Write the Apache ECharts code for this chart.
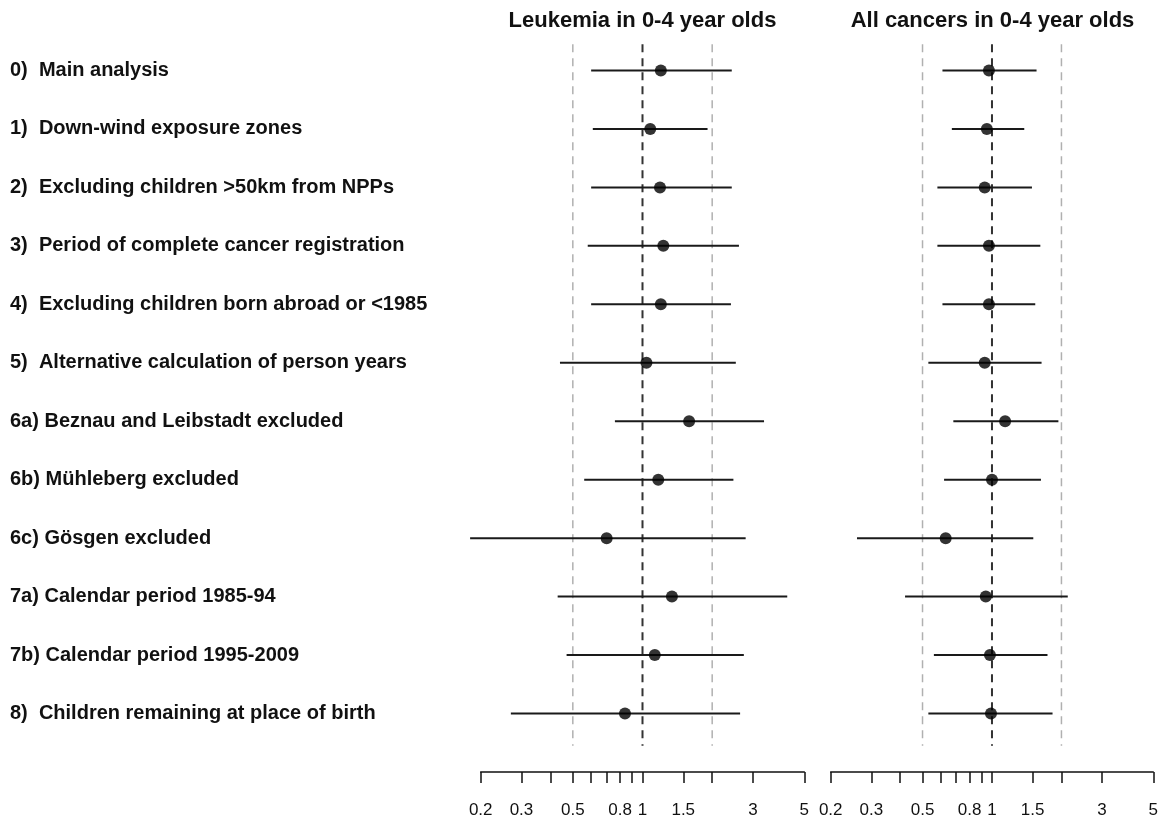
<!DOCTYPE html>
<html>
<head>
<meta charset="utf-8">
<script src="https://cdn.jsdelivr.net/npm/echarts@6/dist/echarts.min.js"></script>
<style>
html,body{margin:0;padding:0;background:#fff;}
#chart{width:1161px;height:819px;}
</style>
</head>
<body>
<div id="chart"></div>
<script>
const rowLabels = [
  "0)  Main analysis",
  "1)  Down-wind exposure zones",
  "2)  Excluding children >50km from NPPs",
  "3)  Period of complete cancer registration",
  "4)  Excluding children born abroad or <1985",
  "5)  Alternative calculation of person years",
  "6a) Beznau and Leibstadt excluded",
  "6b) Mühleberg excluded",
  "6c) Gösgen excluded",
  "7a) Calendar period 1985-94",
  "7b) Calendar period 1995-2009",
  "8)  Children remaining at place of birth"
];
const panelTitles = ["Leukemia in 0-4 year olds", "All cancers in 0-4 year olds"];

const leukEst = [1.20, 1.08, 1.19, 1.23, 1.20, 1.04, 1.59, 1.17, 0.70, 1.34, 1.13, 0.84];
const leukLo  = [0.60, 0.61, 0.60, 0.58, 0.60, 0.44, 0.76, 0.56, 0.18, 0.43, 0.47, 0.27];
const leukHi  = [2.43, 1.91, 2.43, 2.61, 2.41, 2.53, 3.35, 2.47, 2.79, 4.22, 2.74, 2.64];

const allEst = [0.97, 0.95, 0.93, 0.97, 0.97, 0.93, 1.14, 1.00, 0.63, 0.94, 0.98, 0.99];
const allLo  = [0.61, 0.67, 0.58, 0.58, 0.61, 0.53, 0.68, 0.62, 0.26, 0.42, 0.56, 0.53];
const allHi  = [1.56, 1.38, 1.49, 1.62, 1.54, 1.64, 1.94, 1.63, 1.51, 2.13, 1.74, 1.83];

const tickValues  = [0.2, 0.3, 0.4, 0.5, 0.6, 0.7, 0.8, 0.9, 1, 1.5, 2, 3, 5];
const labelValues = [0.2, 0.3, 0.5, 0.8, 1, 1.5, 3, 5];
const refGray  = [0.5, 2];
const refBlack = [1];
const axisMin = 0.2, axisMax = 5;

const L = v => Math.log10(v);
const chart = echarts.init(document.getElementById('chart'), null, {renderer: 'canvas'});

const gridTop = 12, gridHeight = 761;
const grids = [
  {left: 480.7, top: gridTop, width: 323.6, height: gridHeight},
  {left: 830.7, top: gridTop, width: 323.6, height: gridHeight}
];

function makeX(idx) {
  return {
    type: 'value', gridIndex: idx,
    min: L(axisMin), max: L(axisMax),
    axisLine: {show: true, onZero: false, lineStyle: {color: '#111', width: 1.5}},
    axisTick: {show: true, length: 11, customValues: tickValues.map(L), lineStyle: {color: '#111', width: 1.5}},
    axisLabel: {
      show: true, customValues: labelValues.map(L), margin: 30,
      fontFamily: 'Liberation Sans, Arial, sans-serif', fontSize: 17, color: '#111',
      formatter: v => String(Number(Math.pow(10, v).toPrecision(2)))
    },
    splitLine: {show: false}
  };
}
function makeY(idx) {
  return {
    type: 'value', gridIndex: idx, inverse: true,
    min: -1, max: 12, interval: 1,
    axisLine: {show: false, onZero: false},
    axisTick: {show: false},
    splitLine: {show: false},
    axisLabel: idx === 0 ? {
      show: true, align: 'left', margin: 470.7,
      fontFamily: 'Liberation Sans, Arial, sans-serif', fontSize: 20, fontWeight: 'bold', color: '#111',
      formatter: v => (v >= 0 && v < rowLabels.length) ? rowLabels[v] : ''
    } : {show: false}
  };
}

function refLine(idx, val, color, width) {
  return {
    type: 'line', xAxisIndex: idx, yAxisIndex: idx, silent: true, symbol: 'none',
    data: [[L(val), -0.45], [L(val), 11.55]],
    lineStyle: {color: color, width: width, type: [8, 6]},
    z: 1
  };
}

function ciSeries(idx, lo, hi) {
  return {
    type: 'custom', xAxisIndex: idx, yAxisIndex: idx, silent: true,
    data: lo.map((v, i) => [L(v), L(hi[i]), i]),
    encode: {x: [0, 1], y: 2},
    renderItem: (params, api) => {
      const a = api.coord([api.value(0), api.value(2)]);
      const b = api.coord([api.value(1), api.value(2)]);
      return {type: 'line', shape: {x1: a[0], y1: a[1], x2: b[0], y2: b[1]},
              style: {stroke: '#1a1a1a', lineWidth: 2}};
    },
    z: 3
  };
}
function pointSeries(idx, est) {
  return {
    type: 'scatter', xAxisIndex: idx, yAxisIndex: idx, silent: true,
    symbol: 'circle', symbolSize: 12,
    itemStyle: {color: '#000'},
    data: est.map((v, i) => [L(v), i]),
    z: 4
  };
}

const series = [];
[0, 1].forEach(idx => {
  refGray.forEach(v => series.push(refLine(idx, v, '#b0b0b0', 1.5)));
  refBlack.forEach(v => series.push(refLine(idx, v, '#333', 2)));
});
series.push(ciSeries(0, leukLo, leukHi), pointSeries(0, leukEst));
series.push(ciSeries(1, allLo, allHi), pointSeries(1, allEst));

const titleCenters = [480.7 + 323.6 / 2, 830.7 + 323.6 / 2];
chart.setOption({
  backgroundColor: '#fff',
  animation: false,
  title: panelTitles.map((t, i) => ({
    text: t, left: titleCenters[i], top: 10, textAlign: 'center', padding: 0,
    textStyle: {fontFamily: 'Liberation Sans, Arial, sans-serif', fontSize: 22, fontWeight: 'bold', color: '#111'}
  })),
  grid: grids,
  xAxis: [makeX(0), makeX(1)],
  yAxis: [makeY(0), makeY(1)],
  series: series
});
</script>
</body>
</html>
